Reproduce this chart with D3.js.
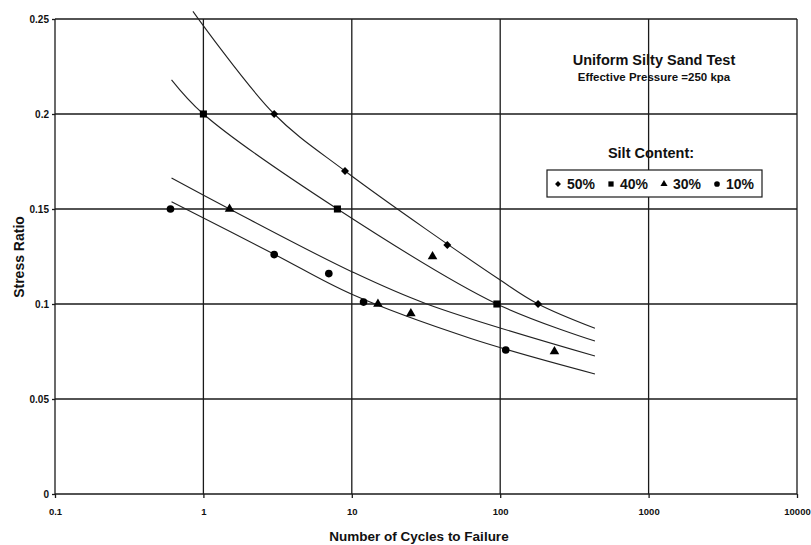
<!DOCTYPE html>
<html>
<head>
<meta charset="utf-8">
<script src="https://cdn.jsdelivr.net/npm/d3@7"></script>
<style>
  body { margin: 0; background: #fff; }
  #canvas { width: 811px; height: 545px; }
  text { font-family: "Liberation Sans", Arial, sans-serif; font-weight: bold; fill: #111; }
</style>
</head>
<body>
<div id="canvas" class="canvas"></div>
<script>
// tick values
var xTicks = [0.1, 1, 10, 100, 1000, 10000];
var xTickLabels = ['0.1', '1', '10', '100', '1000', '10000'];
var yTicks = [0, 0.05, 0.1, 0.15, 0.2, 0.25];
var yTickLabels = ['0', '0.05', '0.1', '0.15', '0.2', '0.25'];

// test points (cycles, stress ratio)
var n50 = [3, 9, 44, 180];
var sr50 = [0.2, 0.17, 0.131, 0.1];
var n40 = [1, 8, 95];
var sr40 = [0.2, 0.15, 0.1];
var n30 = [1.5, 15, 25, 35, 232];
var sr30 = [0.15, 0.1, 0.095, 0.125, 0.075];
var n10 = [0.6, 3, 7, 12, 109];
var sr10 = [0.15, 0.126, 0.116, 0.101, 0.0758];

// trend curves
var fitN50 = [0.85, 3, 9, 100, 180, 435];
var fitSR50 = [0.254, 0.2, 0.17, 0.1126, 0.1, 0.0872];
var fitN40 = [0.61, 1, 8, 95, 435];
var fitSR40 = [0.218, 0.2, 0.15, 0.1, 0.0805];
var fitN30 = [0.61, 1.5, 10, 32, 435];
var fitSR30 = [0.1663, 0.15, 0.117, 0.1, 0.0726];
var fitN10 = [0.61, 3, 10, 62.7, 435];
var fitSR10 = [0.1538, 0.1262, 0.1051, 0.082, 0.0632];

var legendLabels = ['50%', '40%', '30%', '10%'];

var m = {t:19, r:14, b:51, l:55},
    w = 811 - m.l - m.r,
    h = 545 - m.t - m.b;

var svg = d3.select('.canvas')
    .append('svg')
    .attr('width', w + m.l + m.r)
    .attr('height', h + m.t + m.b);

var plot = svg.append('g').attr('class','plot')
    .attr('transform','translate('+ m.l+','+ m.t+')');

var x = d3.scaleLog().domain([0.1, 10000]).range([0, w]);
var y = d3.scaleLinear().domain([0, 0.25]).range([h, 0]);

//grid
plot.selectAll('.hgrid')
    .data(yTicks)
    .enter().append('line')
    .attr('x1', 0).attr('x2', w)
    .attr('y1', d => y(d)).attr('y2', d => y(d))
    .attr('stroke', '#1a1a1a').attr('stroke-width', 1.3);

plot.selectAll('.vgrid')
    .data(xTicks)
    .enter().append('line')
    .attr('x1', d => x(d)).attr('x2', d => x(d))
    .attr('y1', 0).attr('y2', h)
    .attr('stroke', '#1a1a1a').attr('stroke-width', 1.3);

//axes
var xAxis = d3.axisBottom(x).tickValues(xTicks)
    .tickFormat((d, i) => xTickLabels[i]).tickSize(4).tickPadding(10);
var yAxis = d3.axisLeft(y).tickValues(yTicks)
    .tickFormat((d, i) => yTickLabels[i]).tickSize(3).tickPadding(3);

plot.append('g').attr('transform', 'translate(0,' + h + ')').call(xAxis)
    .call(g => g.select('.domain').remove())
    .call(g => g.selectAll('line').attr('stroke', '#1a1a1a').attr('stroke-width', 1.3))
    .call(g => g.selectAll('text').style('font-size', '9.5px').attr('fill', '#111'));
plot.append('g').call(yAxis)
    .call(g => g.select('.domain').remove())
    .call(g => g.selectAll('line').attr('stroke', '#1a1a1a').attr('stroke-width', 1.3))
    .call(g => g.selectAll('text').style('font-size', '10px').attr('fill', '#111'));

//curves
var line = d3.line()
    .x(d => x(d[0]))
    .y(d => y(d[1]))
    .curve(d3.curveCatmullRom.alpha(0.5));

var curves = [
    d3.zip(fitN50, fitSR50),
    d3.zip(fitN40, fitSR40),
    d3.zip(fitN30, fitSR30),
    d3.zip(fitN10, fitSR10)
];
plot.selectAll('.fit')
    .data(curves)
    .enter().append('path')
    .attr('class', 'fit')
    .attr('d', line)
    .attr('fill', 'none')
    .attr('stroke', '#222')
    .attr('stroke-width', 1.1);

//markers
var series = [
    {pts: d3.zip(n50, sr50), type: d3.symbolSquare, size: 32, rot: 45},
    {pts: d3.zip(n40, sr40), type: d3.symbolSquare, size: 50, rot: 0},
    {pts: d3.zip(n30, sr30), type: d3.symbolTriangle, size: 40, rot: 0},
    {pts: d3.zip(n10, sr10), type: d3.symbolCircle, size: 46, rot: 0}
];

series.forEach(function(s) {
    plot.selectAll(null)
        .data(s.pts)
        .enter().append('path')
        .attr('d', d3.symbol().type(s.type).size(s.size))
        .attr('transform', d => 'translate(' + x(d[0]) + ',' + y(d[1]) + ') rotate(' + s.rot + ')')
        .attr('fill', '#000');
});

//titles
svg.append('text')
    .attr('x', 654).attr('y', 65)
    .attr('text-anchor', 'middle')
    .style('font-size', '14.5px')
    .text('Uniform Silty Sand Test');
svg.append('text')
    .attr('x', 654).attr('y', 81)
    .attr('text-anchor', 'middle')
    .style('font-size', '11.5px')
    .text('Effective Pressure =250 kpa');
svg.append('text')
    .attr('x', 651).attr('y', 158)
    .attr('text-anchor', 'middle')
    .style('font-size', '14.5px')
    .text('Silt Content:');

//legend
var legend = svg.append('g').attr('transform', 'translate(547,170)');
legend.append('rect')
    .attr('width', 215).attr('height', 27)
    .attr('fill', '#fff').attr('stroke', '#1a1a1a').attr('stroke-width', 1.2);

var items = legend.selectAll('.item')
    .data(legendLabels)
    .enter().append('g')
    .attr('transform', (d, i) => 'translate(' + (11 + i * 53) + ',14)');
items.append('path')
    .attr('d', (d, i) => d3.symbol().type(series[i].type).size(series[i].size * 0.55)())
    .attr('transform', (d, i) => 'rotate(' + series[i].rot + ')')
    .attr('fill', '#000');
items.append('text')
    .attr('x', 9).attr('y', 5)
    .style('font-size', '14px')
    .text(d => d);

//axis labels
svg.append('text')
    .attr('transform', 'translate(24,257) rotate(-90)')
    .attr('text-anchor', 'middle')
    .style('font-size', '14px')
    .text('Stress Ratio');
svg.append('text')
    .attr('x', 419).attr('y', 541)
    .attr('text-anchor', 'middle')
    .style('font-size', '13.5px')
    .text('Number of Cycles to Failure');
</script>
</body>
</html>
